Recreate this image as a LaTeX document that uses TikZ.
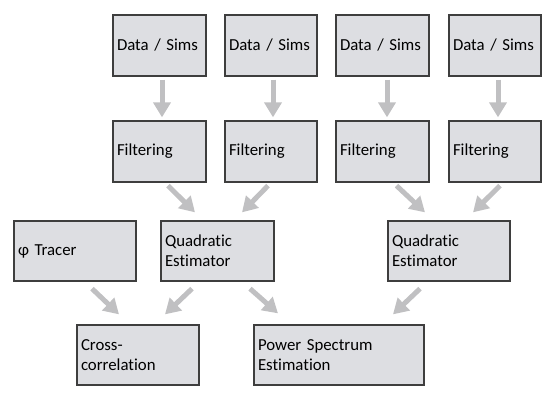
\documentclass[tikz,border=0pt]{standalone}
\usepackage{fontspec}
\setmainfont{Carlito}[Ligatures={NoCommon}]
\usepackage{tikz}
\usepackage{xcolor}
\usetikzlibrary{arrows.meta,calc}

\definecolor{boxfill}{RGB}{221,222,226}
\definecolor{boxline}{RGB}{62,62,62}
\definecolor{arrowgray}{RGB}{192,192,194}

\tikzset{
	stage/.style={draw=boxline, fill=boxfill, line width=1.3pt, rectangle,
		inner xsep=4pt, inner ysep=0pt, align=left, minimum height=#1,
		font=\fontsize{16.8}{20}\selectfont},
	stage/.default=61pt,
	flow/.style={draw=arrowgray, line width=5pt,
		-{Triangle[width=17pt,length=15pt]}}
}

\begin{document}
\begin{tikzpicture}[x=1pt,y=-1pt]
				\useasboundingbox (0,0) rectangle (552,407);
				% data and filtering
				\node[stage, text width=85pt] at (159.5,45.5) (d1) {Data / Sims};
				\node[stage, text width=84pt] at (271,45.5) (d2) {Data / Sims};
				\node[stage, text width=85pt] at (382.5,45.5) (d3) {Data / Sims};
				\node[stage, text width=84pt] at (495,45.5) (d4) {Data / Sims};
				\node[stage, text width=85pt] at (159.5,151.5) (f1) {Filtering};
				\node[stage, text width=84pt] at (271,151.5) (f2) {Filtering};
				\node[stage, text width=85pt] at (382.5,151.5) (f3) {Filtering};
				\node[stage, text width=84pt] at (495,151.5) (f4) {Filtering};
				% estimators
				\node[stage=60pt, text width=114pt] at (75,251) (tr) {φ Tracer};
				\node[stage=60pt, text width=105pt] at (217.5,251) (q1) {Quadratic\\Estimator};
				\node[stage=60pt, text width=114pt] at (449,251) (q2) {Quadratic\\Estimator};
				\node[stage=60pt, text width=114pt] at (138,355) (cc) {Cross-\\correlation};
				\node[stage=60pt, text width=162pt] at (339,355) (ps) {Power Spectrum\\Estimation};
				
				\draw[flow] ($(d1.south)+(2.5,3)$) -- ($(f1.north)+(2.5,-3)$);
				\draw[flow] ($(d2.south)+(2,3)$) -- ($(f2.north)+(2,-3)$);
				\draw[flow] ($(d3.south)+(4.5,3)$) -- ($(f3.north)+(4.5,-3)$);
				\draw[flow] ($(d4.south)+(3,3)$) -- ($(f4.north)+(3,-3)$);
				
				\draw[flow] ($(f1.south)+(8.5,3)$) -- ($(q1.north)+(-22.5,-8)$);
				\draw[flow] ($(f2.south)+(-3,3)$) -- ($(q1.north)+(24.5,-8)$);
				\draw[flow] ($(f3.south)+(14,3)$) -- ($(q2.north)+(-24,-8)$);
				\draw[flow] ($(f4.south)+(5,3)$) -- ($(q2.north)+(24,-8)$);
				
				\draw[flow] ($(tr.south)+(17,7)$) -- ($(cc.north)+(-19,-10)$);
				\draw[flow] ($(q1.south)+(-25.5,7)$) -- ($(cc.north)+(27,-10)$);
				\draw[flow] ($(q1.south)+(32.5,7)$) -- ($(ps.north)+(-61,-11)$);
				\draw[flow] ($(q2.south)+(-29,7)$) -- ($(ps.north)+(54,-10)$);
			\end{tikzpicture}
\end{document}
